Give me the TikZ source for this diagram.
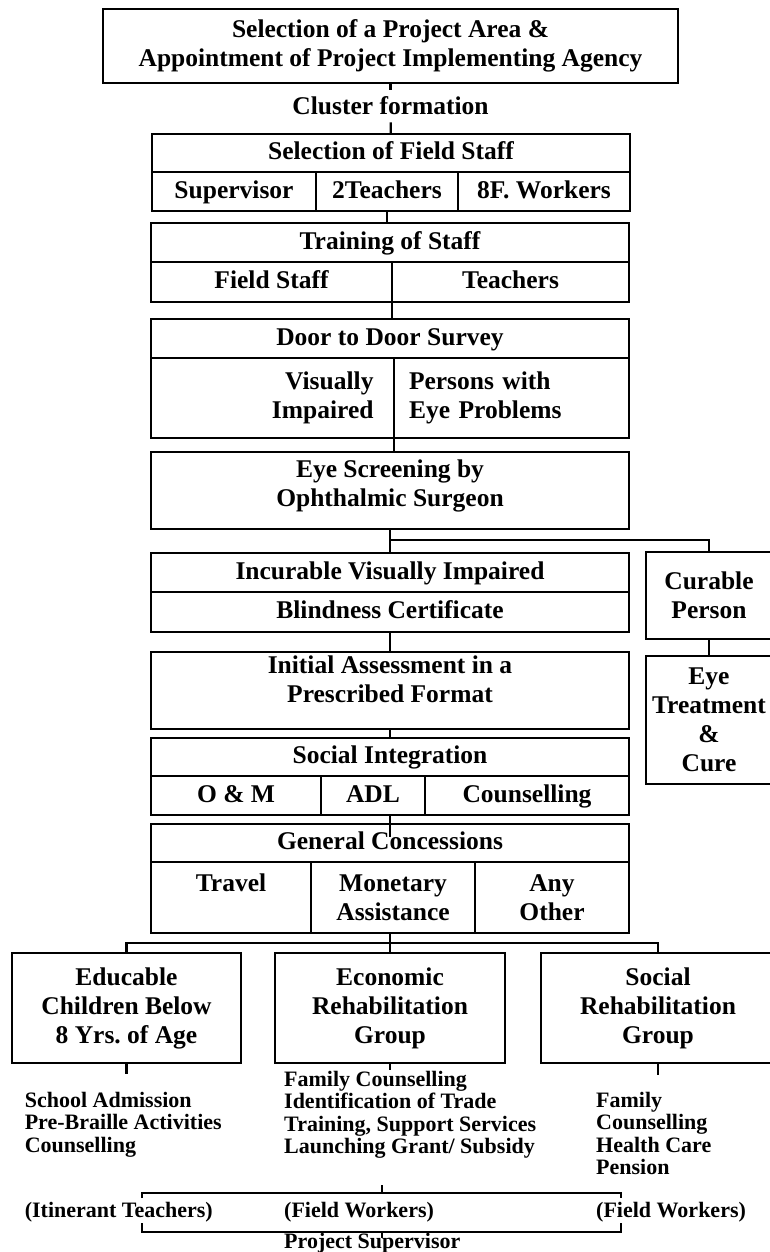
\documentclass[tikz,border=0pt]{standalone}
\usepackage{fontspec}
\setmainfont{Liberation Serif}
\frenchspacing

\newcommand{\boxfnt}{\fontsize{25.5}{29}\selectfont\bfseries}
\newcommand{\listfnt}{\fontsize{22}{22.5}\selectfont\bfseries}

\begin{document}
\begin{tikzpicture}[
    x=1pt, y=-1pt,
    blk/.style={rectangle, draw, line width=2.2pt, inner sep=0pt, outer sep=0pt, align=center, font=\boxfnt},
    one/.style={blk, text height=19pt, text depth=5.5pt},
    conn/.style={line width=2.2pt},
    listtxt/.style={inner sep=0pt, align=left, font=\listfnt}
]

% Page frame (right hand boxes run off the page)
\useasboundingbox (0,0) rectangle (770,1252);
\clip (0,0) rectangle (770,1252);
\fill[white] (0,0) rectangle (770,1252);

% ==================== TOP ====================

\node[blk, minimum width=575pt, minimum height=74pt] (area) at (390.5, 46) {Selection of a Project Area \&\\Appointment of Project Implementing Agency};
\node[font=\boxfnt, inner sep=7pt] (cluster) at (390.5, 106) {Cluster formation};
\draw[conn] (area) -- (cluster);

% Field staff
\node[one, minimum width=478pt, minimum height=38pt] (fstaff) at (391, 153) {Selection of Field Staff};
\node[one, minimum width=164pt, minimum height=39pt] (fsup) at (234, 191.5) {Supervisor};
\node[one, minimum width=142pt, minimum height=39pt] (fteach) at (387, 191.5) {2Teachers};
\node[one, minimum width=172pt, minimum height=39pt] (fwork) at (544, 191.5) {8F. Workers};
\draw[conn] (cluster) -- (fstaff);

% Training
\node[one, minimum width=478pt, minimum height=39pt] (train) at (390, 242.5) {Training of Staff};
\node[one, minimum width=241pt, minimum height=40pt] (tfield) at (271.5, 282) {Field Staff};
\node[one, minimum width=237pt, minimum height=40pt] (tteach) at (510.5, 282) {Teachers};
\draw[conn] (fteach.south) -- (fteach.south |- train.north);

% Door to door survey
\node[one, minimum width=478pt, minimum height=39pt] (survey) at (390, 338.5) {Door to Door Survey};
\node[blk, minimum height=80pt, text width=202pt, inner xsep=20.5pt, align=right] (svis) at (272.5, 398) {Visually\\Impaired};
\node[blk, minimum height=80pt, text width=205pt, inner xsep=15pt, align=left] (seye) at (511.5, 398) {Persons with\\Eye Problems};
\draw[conn] (tteach.south west) -- (tteach.south west |- survey.north);

% Screening
\node[blk, minimum width=478pt, minimum height=77pt, text depth=14pt] (screen) at (390, 490.5) {Eye Screening by\\Ophthalmic Surgeon};
\draw[conn] (seye.south west) -- (seye.south west |- screen.north);

% ==================== SPLIT ====================

\node[one, minimum width=478pt, minimum height=39pt] (incur) at (390, 572.5) {Incurable Visually Impaired};
\node[one, minimum width=478pt, minimum height=40pt] (cert) at (390, 612) {Blindness Certificate};
\node[blk, minimum width=126pt, minimum height=87pt] (curable) at (709, 595.5) {Curable\\Person};
\node[blk, minimum width=126pt, minimum height=128pt] (treat) at (709, 720) {Eye\\Treatment\\\&\\Cure};

\draw[conn] (screen.south) -- (incur.north);
\draw[conn] (screen.south) ++(0,11) -| (curable.north);
\draw[conn] (curable) -- (treat);

% Assessment
\node[blk, minimum width=478pt, minimum height=77pt, text depth=22pt] (assess) at (390, 690.5) {Initial Assessment in a\\Prescribed Format};
\draw[conn] (cert) -- (assess);

% Social integration
\node[one, minimum width=478pt, minimum height=38pt] (social) at (390, 757) {Social Integration};
\node[one, minimum width=170pt, minimum height=39pt] (som) at (236, 795.5) {O \& M};
\node[one, minimum width=104pt, minimum height=39pt] (sadl) at (373, 795.5) {ADL};
\node[one, minimum width=204pt, minimum height=39pt] (scoun) at (527, 795.5) {Counselling};
\draw[conn] (assess) -- (social);

% General concessions
\node[one, minimum width=478pt, minimum height=38pt] (conc) at (390, 843) {General Concessions};
\node[blk, minimum width=160pt, minimum height=71pt] (ctravel) at (231, 897.5) {Travel\\\mbox{}};
\node[blk, minimum width=164pt, minimum height=71pt] (cmoney) at (393, 897.5) {Monetary\\Assistance};
\node[blk, minimum width=154pt, minimum height=71pt] (cother) at (552, 897.5) {Any\\Other};
\draw[conn] (social.center |- sadl.south) -- ++(0,22);

% ==================== GROUPS ====================

\node[blk, minimum width=229pt, minimum height=110pt] (educ) at (126.5, 1008) {Educable\\Children Below\\8 Yrs. of Age};
\node[blk, minimum width=230pt, minimum height=110pt] (econ) at (390, 1008) {Economic\\Rehabilitation\\Group};
\node[blk, minimum width=234pt, minimum height=110pt] (srehab) at (658, 1008) {Social\\Rehabilitation\\Group};

\draw[conn] (conc.center |- cmoney.south) -- (econ.north);
\draw[conn] (educ.north) -- ++(0,-10) -| (srehab.north);

% Activities
\node[listtxt, anchor=north west] (educlist) at (24.6, 1092) {School Admission\\Pre-Braille Activities\\Counselling};
\node[listtxt, anchor=north west] (econlist) at (284, 1071) {Family Counselling\\Identification of Trade\\Training, Support Services\\Launching Grant/ Subsidy};
\node[listtxt, anchor=north west] (soclist) at (596, 1092) {Family\\Counselling\\Health Care\\Pension};

\draw[conn] (educ.south) -- ++(0,11);
\draw[conn] (econ.south) -- ++(0,7);
\draw[conn] (srehab.south) -- ++(0,12);

% ==================== STAFF ====================

\node[listtxt, anchor=west] (itin) at (24.6, 1212) {(Itinerant Teachers)};
\node[listtxt, anchor=west] (fwecon) at (284, 1212) {(Field Workers)};
\node[listtxt, anchor=west] (fwsoc) at (596, 1212) {(Field Workers)};
\node[listtxt, anchor=west] (supvr) at (284, 1243) {Project Supervisor};

% Brackets
\draw[conn] (142,1198) -- (142,1193) -- (621,1193) -- (621,1198);
\draw[conn] (382,1193) -- (382,1185);
\draw[conn] (142,1223) -- (142,1232) -- (621,1232) -- (621,1223);
\draw[conn] (382,1232) -- (382,1238);

\end{tikzpicture}
\end{document}
